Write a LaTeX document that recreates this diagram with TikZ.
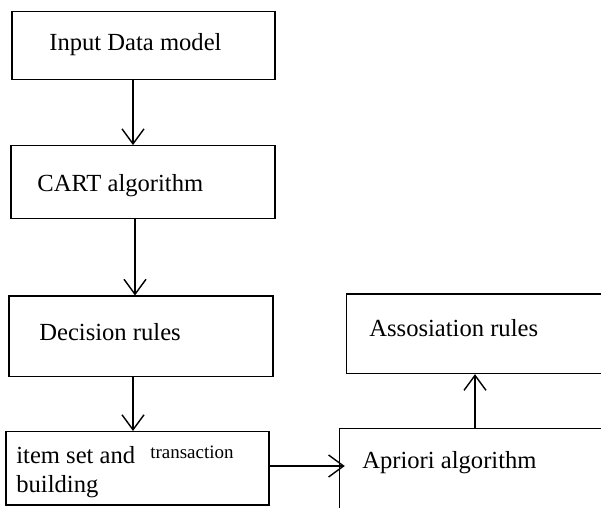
\documentclass[tikz,border=0pt]{standalone}
\usepackage{fontspec}
\setmainfont{Liberation Serif}
\usetikzlibrary{arrows.meta}
\tikzset{
  box/.style={draw, line width=0.8pt, rectangle, inner sep=0pt},
  lbl/.style={anchor=base west, inner sep=0pt, font=\fontsize{14}{17}\selectfont},
  arr/.style={line width=0.8pt, -{Straight Barb[length=0.3cm,width=0.44cm]}}
}
\begin{document}
\begin{tikzpicture}[x=0.02cm, y=-0.02cm]
  \useasboundingbox (0,0) rectangle (601,507);
  \clip (0,0) rectangle (601,507);
  % Left column
  \node[box, minimum width=5.26cm, minimum height=1.35cm] (input) at (143.5,45.5) {};
  \node[box, minimum width=5.28cm, minimum height=1.45cm] (cart) at (143,182) {};
  \node[box, minimum width=5.28cm, minimum height=1.61cm] (decision) at (141,336.4) {};
  \node[box, minimum width=5.26cm, minimum height=1.47cm] (itemset) at (137.5,468.4) {};
  % Right column
  \node[box, minimum width=5.17cm, minimum height=1.59cm] (assoc) at (475.9,333.7) {};
  \node[box, minimum width=5.31cm, minimum height=2.03cm] (apriori) at (472.2,479.2) {};
  % Labels
  \node[lbl] (input-t) at (49,50) {Input Data model};
  \node[lbl] (cart-t) at (37,191.5) {CART algorithm};
  \node[lbl] (decision-t) at (39,340.5) {Decision rules};
  \node[lbl] (items-t) at (16,463) {item set and};
  \node[lbl, font=\fontsize{10.8}{13}\selectfont] (trans-t) at (150,458) {transaction};
  \node[lbl] (build-t) at (16,492) {building};
  \node[lbl] (assoc-t) at (369,336) {Assosiation rules};
  \node[lbl] (apriori-t) at (362,468) {Apriori algorithm};
  % Flow
  \draw[arr] (input.south -| 133,0) -- (cart.north -| 133,0);
  \draw[arr] (cart.south -| 135,0) -- (decision.north -| 135,0);
  \draw[arr] (decision.south -| 133,0) -- (itemset.north -| 133,0);
  \draw[arr, shorten >=-0.12cm] (itemset.east |- 0,466) -- (apriori.west |- 0,466);
  \draw[arr] (apriori.north -| 475,0) -- (assoc.south -| 475,0);
\end{tikzpicture}
\end{document}
